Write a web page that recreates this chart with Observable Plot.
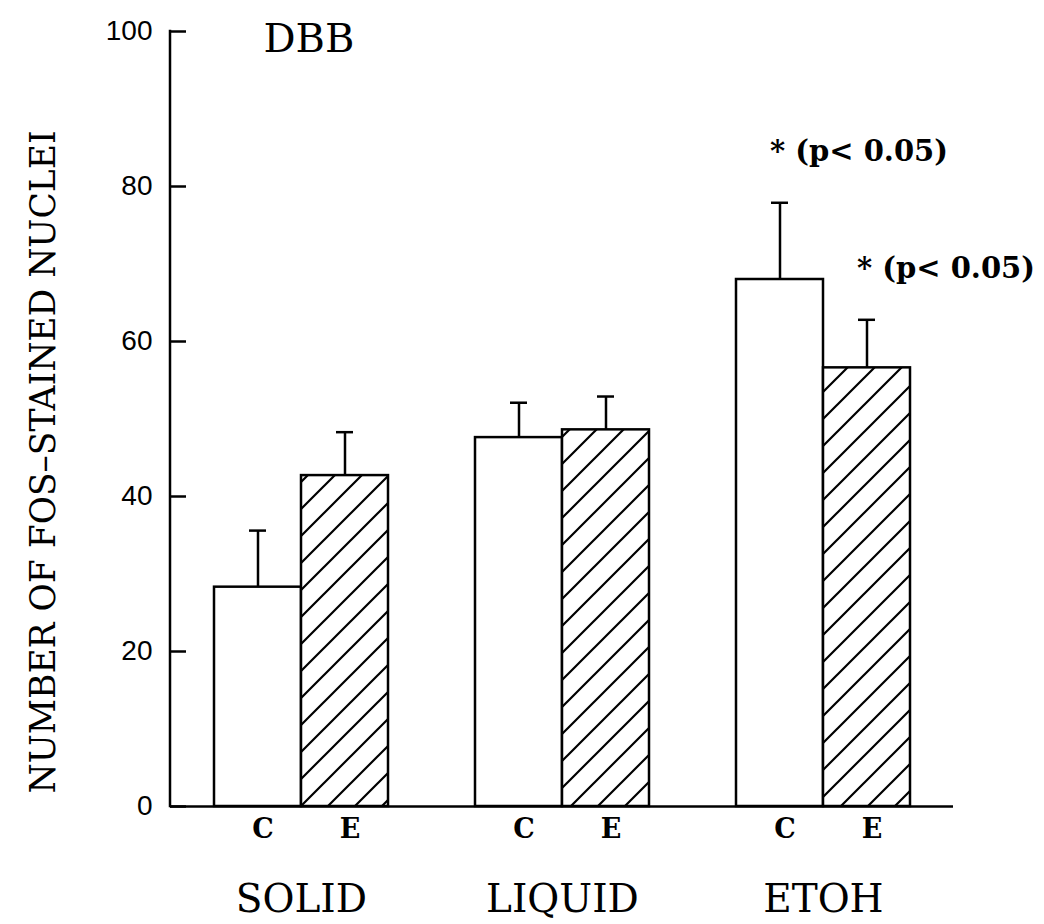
<!DOCTYPE html>
<html><head><meta charset="utf-8">
<script src="https://cdn.jsdelivr.net/npm/d3@7"></script>
<script src="https://cdn.jsdelivr.net/npm/@observablehq/plot@0.6"></script>
<style>body{margin:0;background:#fff}</style>
</head><body><div id="chart"></div>
<script>
// ---- data ----
const groups = ["SOLID", "LIQUID", "ETOH"];
const conditions = ["C", "E"];
const meansC = [28.3, 47.6, 68.0];
const meansE = [42.7, 48.6, 56.6];
const errC = [7.3, 4.5, 9.9];
const errE = [5.6, 4.3, 6.2];
const yTicks = [0, 20, 40, 60, 80, 100];
const yLabel = "NUMBER OF FOS–STAINED NUCLEI";
const panelLabel = "DBB";
const sigLabel = "* (p< 0.05)";
const sigGroups = ["ETOH", "ETOH"];
const sigConds = ["C", "E"];

// ---- table built from arrays ----
const rows = [];
groups.forEach((g, i) => {
  conditions.forEach(c => {
    const mean = c === "C" ? meansC[i] : meansE[i];
    const err = c === "C" ? errC[i] : errE[i];
    rows.push({group: g, cond: c, key: g + "|" + c, mean, top: mean + err});
  });
});
const xDomain = groups.flatMap((g, i) =>
  i < groups.length - 1 ? [g + "|C", g + "|E", g + "|gap"] : [g + "|C", g + "|E"]);
const sigRows = sigGroups.map((g, i) => rows.find(r => r.group === g && r.cond === sigConds[i]));

const NS = "http://www.w3.org/2000/svg";
function hatchDefs() {
  const defs = document.createElementNS(NS, "defs");
  const p = document.createElementNS(NS, "pattern");
  p.setAttribute("id", "hatch");
  p.setAttribute("patternUnits", "userSpaceOnUse");
  p.setAttribute("width", 27);
  p.setAttribute("height", 27);
  const bg = document.createElementNS(NS, "rect");
  bg.setAttribute("width", 27); bg.setAttribute("height", 27); bg.setAttribute("fill", "white");
  p.appendChild(bg);
  const path = document.createElementNS(NS, "path");
  path.setAttribute("d", "M-7,7 L7,-7 M0,27 L27,0 M20,34 L34,20");
  path.setAttribute("stroke", "black");
  path.setAttribute("stroke-width", 2.2);
  p.appendChild(path);
  defs.appendChild(p);
  return defs;
}
function leftAxisLine(index, scales, values, dims) {
  const line = document.createElementNS(NS, "line");
  line.setAttribute("x1", dims.marginLeft);
  line.setAttribute("x2", dims.marginLeft);
  line.setAttribute("y1", scales.y(yTicks[0]));
  line.setAttribute("y2", scales.y(yTicks[yTicks.length - 1]));
  line.setAttribute("stroke", "black");
  line.setAttribute("stroke-width", 2.5);
  line.setAttribute("stroke-linecap", "square");
  return line;
}

const serif = "'DejaVu Serif', serif";
const sans = "'Liberation Sans', Arial, sans-serif";

const chart = Plot.plot({
  width: 1044,
  height: 924,
  marginLeft: 170,
  marginRight: 91,
  marginTop: 31,
  marginBottom: 118,
  style: {background: "white", color: "black"},
  x: {type: "band", domain: xDomain, paddingInner: 0, paddingOuter: 0.487, axis: null},
  y: {domain: [0, 100], axis: null},
  marks: [
    hatchDefs,
    Plot.barY(rows.filter(r => r.cond === "C"), {x: "key", y: "mean", fill: "white", stroke: "black", strokeWidth: 2.5}),
    Plot.barY(rows.filter(r => r.cond === "E"), {x: "key", y: "mean", fill: "url(#hatch)", stroke: "black", strokeWidth: 2.5}),
    Plot.ruleX(rows, {x: "key", y1: "mean", y2: "top", stroke: "black", strokeWidth: 2.5}),
    Plot.tickY(rows, {x: "key", y: "top", insetLeft: 35, insetRight: 35, stroke: "black", strokeWidth: 2.5}),
    Plot.ruleY([0], {stroke: "black", strokeWidth: 2.5}),
    leftAxisLine,
    Plot.axisY({ticks: yTicks, tickSize: 16, dx: 16, text: null, strokeWidth: 2.5, label: null}),
    Plot.axisY({ticks: yTicks, tickSize: 0, tickPadding: 18, fontSize: 28, fontFamily: sans, label: null, tickFormat: d => String(d)}),
    Plot.axisX({tickSize: 0, tickPadding: 12, dx: 5, fontSize: 27, fontWeight: "bold", fontFamily: serif, label: null,
      tickFormat: k => { const c = k.split("|")[1]; return c === "gap" ? "" : c; }}),
    Plot.text(groups, {x: g => g + "|E", text: d => d, frameAnchor: "bottom", dy: 93, dx: -43.6, lineAnchor: "middle", textAnchor: "middle", fontSize: 39, fontFamily: serif}),
    Plot.text(sigRows, {x: "key", y: "top", text: () => sigLabel, dy: -51, dx: -10, textAnchor: "start", lineAnchor: "middle", fontSize: 29, fontWeight: "bold", fontFamily: serif}),
    Plot.text([panelLabel], {frameAnchor: "top-left", text: d => d, dx: 93, dy: 8, textAnchor: "start", lineAnchor: "middle", fontSize: 40, fontFamily: serif}),
    Plot.text([yLabel], {frameAnchor: "left", text: d => d, rotate: -90, dx: -127, dy: 43, textAnchor: "middle", lineAnchor: "middle", fontSize: 34.5, fontFamily: serif})
  ]
});
document.getElementById("chart").appendChild(chart);
</script>
</body></html>
